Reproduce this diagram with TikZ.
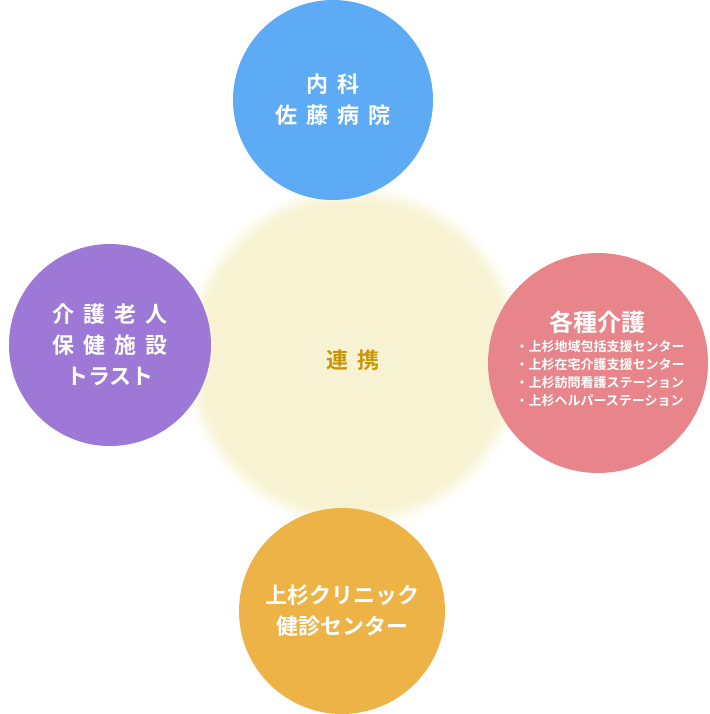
\documentclass[tikz,border=0pt]{standalone}
\usepackage{fontspec}
\newfontfamily\jp{Noto Sans CJK JP Bold}
\definecolor{cblue}{HTML}{5EABF5}
\definecolor{cpurple}{HTML}{9E78D6}
\definecolor{cpink}{HTML}{E8858A}
\definecolor{corange}{HTML}{EDB347}
\definecolor{ccenter}{HTML}{F7F3D2}
\definecolor{cgold}{HTML}{C8960A}
\newcommand{\gp}{\hspace{9pt}}
\begin{document}
\begin{tikzpicture}[x=1pt,y=-1pt,
  bub/.style={circle,inner sep=0pt,text=white,align=center,font=\jp\fontsize{22}{31}\selectfont},
  lst/.style={text=white,align=left,font=\jp\fontsize{13}{18}\selectfont,inner sep=0pt}]
\useasboundingbox (0,0) rectangle (709,714);
\foreach \r/\o in {172/0.15,168/0.25,164/0.4,160/0.6,156/0.8,152/1}{
  \fill[ccenter,opacity=\o] (354,357) circle (\r);}
\node[font=\jp\fontsize{22}{26}\selectfont,text=cgold] (c) at (353,360) {連\gp 携};
\node[bub,fill=cblue,minimum size=200] (t) at (333,100) {内\gp 科\\佐\gp 藤\gp 病\gp 院};
\node[bub,fill=cpurple,minimum size=202] (l) at (110,345) {介\gp 護\gp 老\gp 人\\保\gp 健\gp 施\gp 設\\トラスト};
\node[bub,fill=cpink,minimum size=220] (r) at (598,363) {};
\node[text=white,font=\jp\fontsize{24}{28}\selectfont] (rt) at (597,322) {各種介護};
\node[lst,anchor=north] (rl) at (600,340) {・上杉地域包括支援センター\\・上杉在宅介護支援センター\\・上杉訪問看護ステーション\\・上杉ヘルパーステーション};
\node[bub,fill=corange,minimum size=206] (b) at (342,611) {上杉クリニック\\健診センター};
\end{tikzpicture}
\end{document}
